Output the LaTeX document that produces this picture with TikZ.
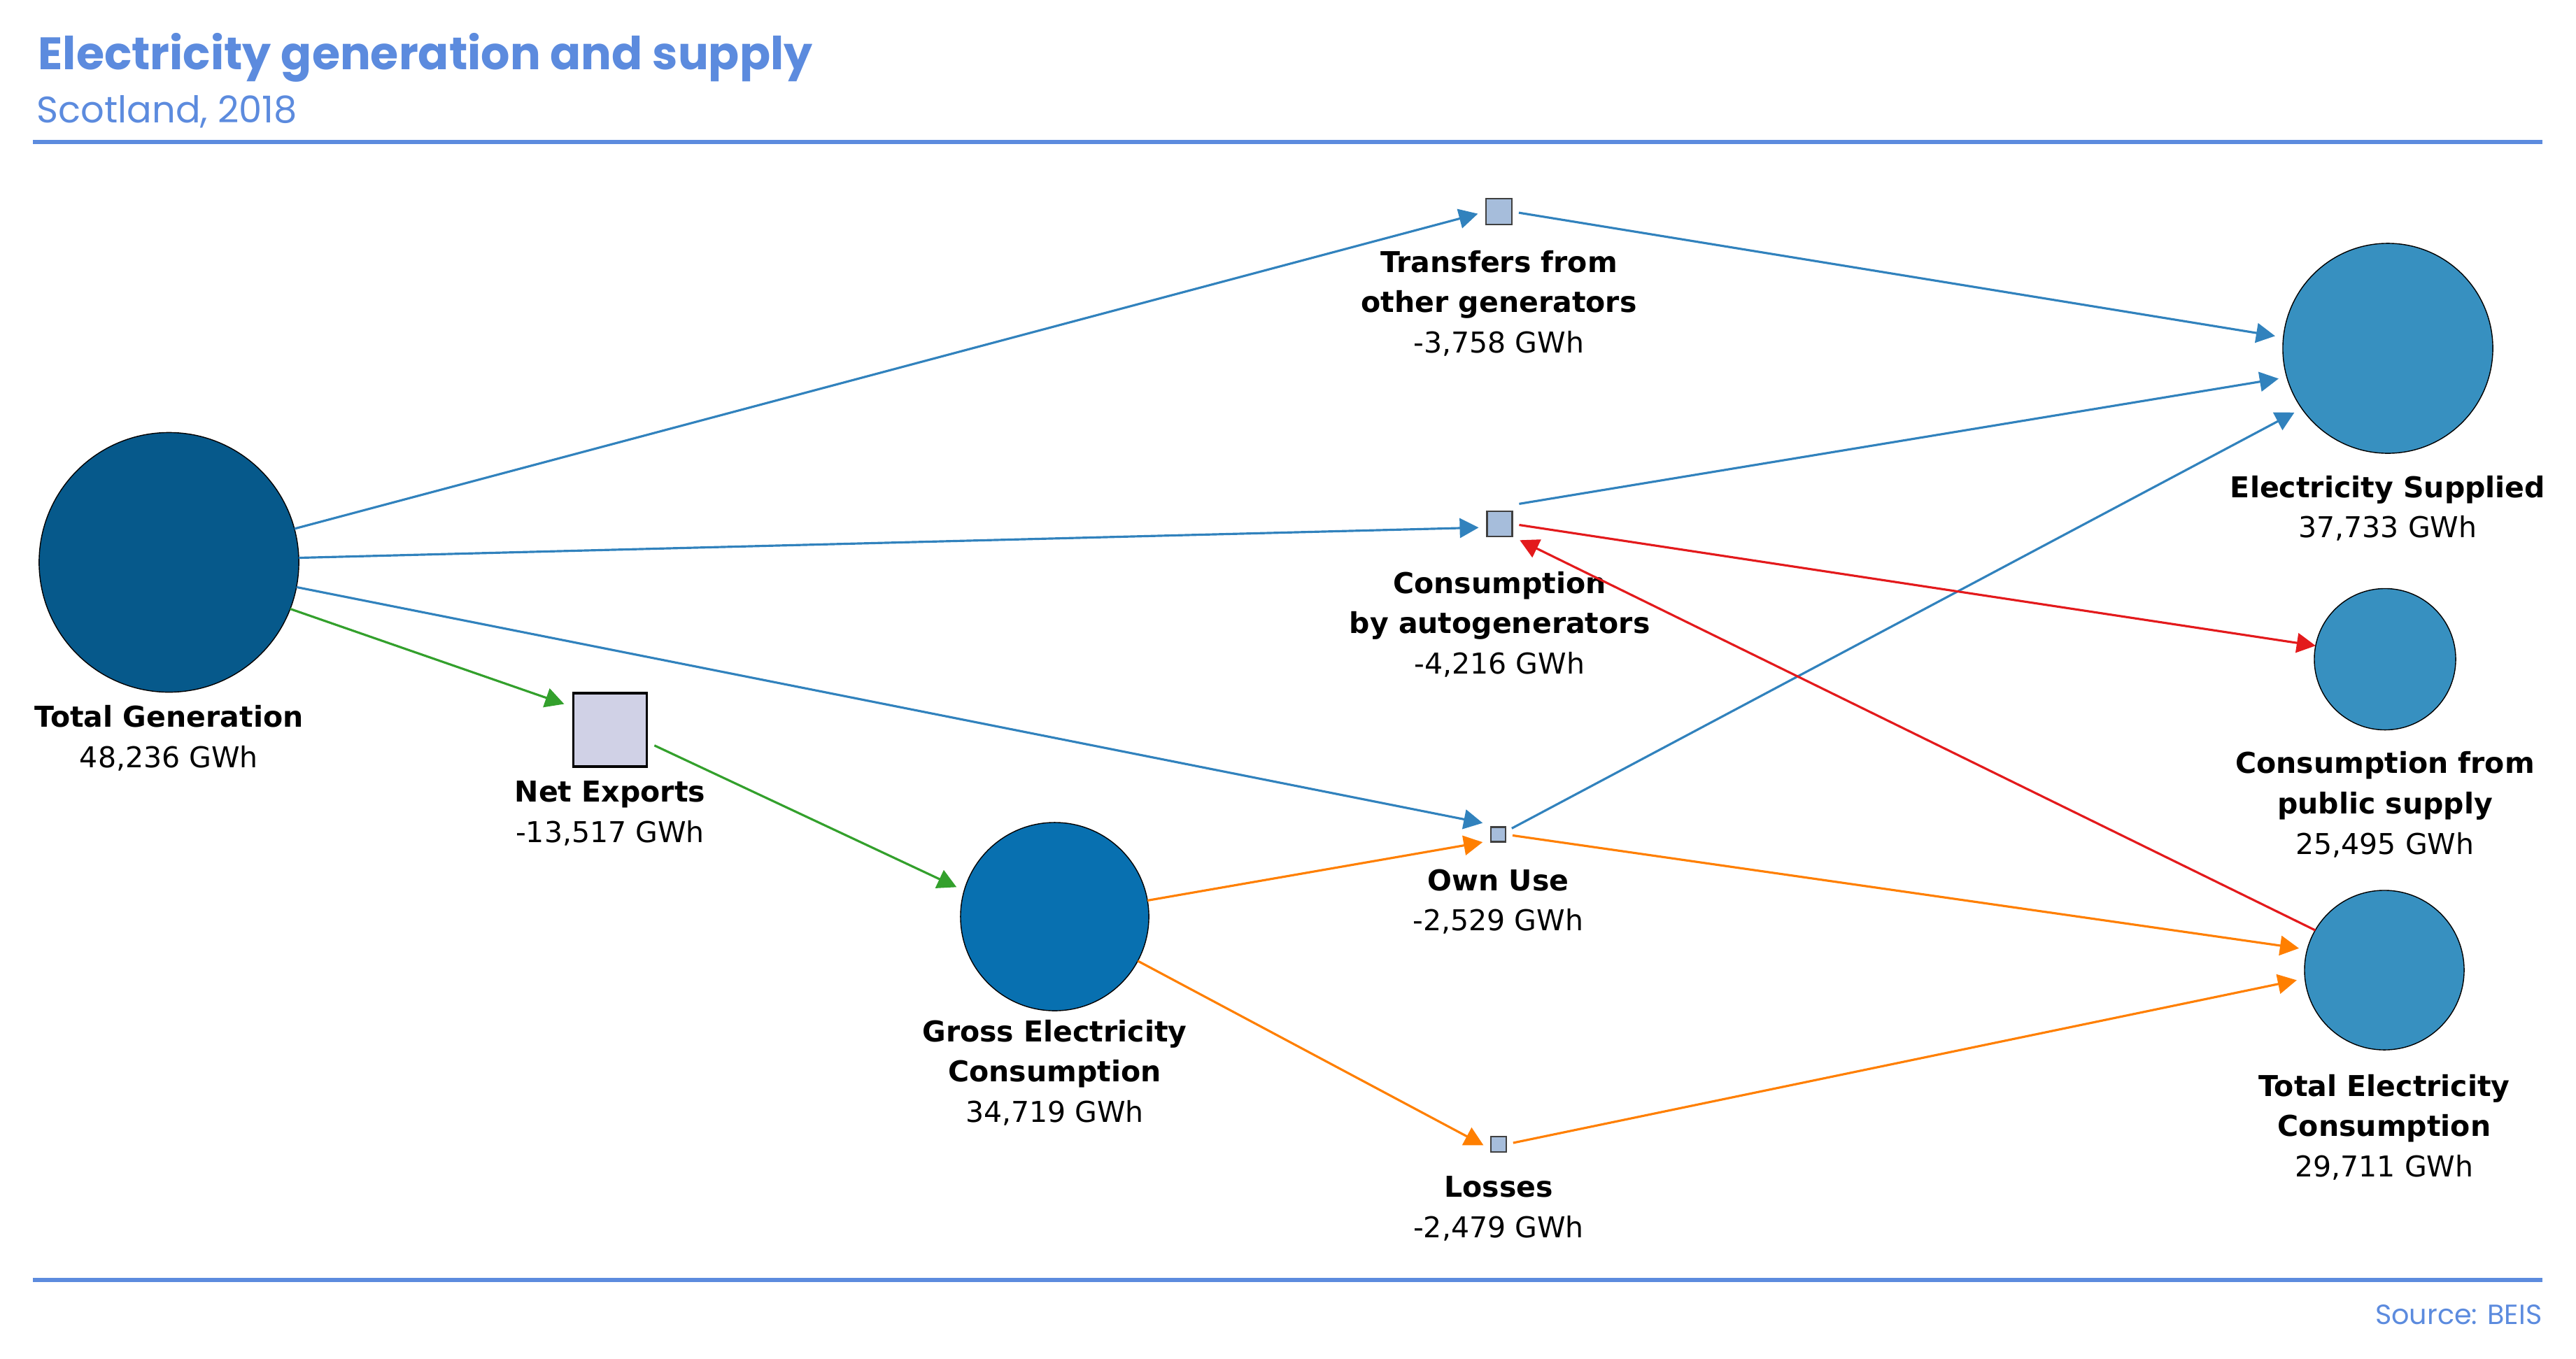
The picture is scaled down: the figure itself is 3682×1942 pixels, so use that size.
\documentclass[tikz,border=0pt]{standalone}
\usepackage{fontspec}
\setmainfont{DejaVu Sans}
\newfontfamily\headfont{Poppins}
\usetikzlibrary{shapes.geometric,arrows.meta,positioning}
\definecolor{headblue}{RGB}{92,139,222}
\definecolor{gencol}{RGB}{6,89,139}
\definecolor{grosscol}{RGB}{8,112,176}
\definecolor{endcol}{RGB}{55,144,192}
\definecolor{stepcol}{RGB}{166,189,219}
\definecolor{exportcol}{RGB}{208,209,230}
\definecolor{flowblue}{RGB}{49,130,189}
\definecolor{flowred}{RGB}{227,26,28}
\definecolor{flowgreen}{RGB}{51,160,44}
\definecolor{floworange}{RGB}{255,127,0}

\begin{document}
\begin{tikzpicture}[
    x=0.01cm, y=-0.01cm,
    bigcircle/.style={circle, draw=black, line width=0.4pt, inner sep=0pt, outer sep=0pt},
    stepbox/.style={rectangle, draw=black!75, fill=stepcol, line width=0.6pt, inner sep=0pt, outer sep=0pt},
    lbl/.style={align=center, inner sep=0pt, outer sep=0pt, font=\fontsize{11.67}{16.4}\selectfont},
    flow/.style={-{Triangle[length=2.7mm,width=2.8mm]}, line width=0.9pt, shorten >=1.2mm},
    fromstep/.style={shorten <=1mm},
    bluearrow/.style={flow, flowblue},
    redarrow/.style={flow, flowred},
    greenarrow/.style={flow, flowgreen},
    orangearrow/.style={flow, floworange},
    rule/.style={headblue, line width=1.45pt}
]
    \useasboundingbox (0,0) rectangle (3682,1942);

    % Heading
    \node[anchor=base west, inner sep=0pt, text=headblue, font=\headfont\bfseries\fontsize{18.5}{22}\selectfont] (title) at (54,99) {Electricity generation and supply};
    \node[anchor=base west, inner sep=0pt, text=headblue, font=\headfont\fontsize{15}{18}\selectfont] (subtitle) at (52,175) {Scotland, 2018};
    \draw[rule] (47,203) -- (3634,203);
    \draw[rule] (47,1830) -- (3634,1830);
    \node[anchor=base east, inner sep=0pt, text=headblue, font=\headfont\fontsize{11.3}{14}\selectfont] (source) at (3634,1893) {Source: BEIS};

    % Main nodes
    \node[bigcircle, fill=gencol, minimum size=3.71cm] (tg) at (241.5,804) {};
    \node[bigcircle, fill=grosscol, minimum size=2.69cm] (gec) at (1507.5,1310.5) {};
    \node[bigcircle, fill=endcol, minimum size=3.00cm] (es) at (3413,498) {};
    \node[bigcircle, fill=endcol, minimum size=2.02cm] (cps) at (3409,942.5) {};
    \node[bigcircle, fill=endcol, minimum size=2.28cm] (tec) at (3408,1387) {};

    % Intermediate steps
    \node[rectangle, draw=black, line width=1pt, fill=exportcol, minimum size=1.05cm, inner sep=0pt] (ne) at (872,1043.5) {};
    \node[stepbox, minimum size=0.37cm] (tr) at (2142.5,302.5) {};
    \node[stepbox, minimum size=0.36cm] (cag) at (2143.5,749) {};
    \node[stepbox, minimum size=0.21cm] (ou) at (2141.5,1193) {};
    \node[stepbox, minimum size=0.22cm] (ls) at (2142,1636) {};

    % Labels
    \node[lbl, below=0.19cm of tg] (tglbl) {\textbf{Total Generation}\\48,236 GWh};
    \node[lbl, below=0.19cm of ne] (nelbl) {\textbf{Net Exports}\\-13,517 GWh};
    \node[lbl, below=0.13cm of gec] (geclbl) {\textbf{Gross Electricity}\\\textbf{Consumption}\\34,719 GWh};
    \node[lbl, below=0.37cm of tr] (trlbl) {\textbf{Transfers from}\\\textbf{other generators}\\-3,758 GWh};
    \node[lbl, below=0.50cm of cag] (caglbl) {\textbf{Consumption}\\\textbf{by autogenerators}\\-4,216 GWh};
    \node[lbl, below=0.39cm of ou] (oulbl) {\textbf{Own Use}\\-2,529 GWh};
    \node[lbl, below=0.35cm of ls] (lslbl) {\textbf{Losses}\\-2,479 GWh};
    \node[lbl, below=0.32cm of es] (eslbl) {\textbf{Electricity Supplied}\\37,733 GWh};
    \node[lbl, below=0.31cm of cps] (cpslbl) {\textbf{Consumption from}\\\textbf{public supply}\\25,495 GWh};
    \node[lbl, below=0.35cm of tec] (teclbl) {\textbf{Total Electricity}\\\textbf{Consumption}\\29,711 GWh};

    % Flows out of total generation
    \draw[bluearrow] (tg.15) -- (tr.west);
    \draw[bluearrow] (tg.2) -- ([yshift=-0.05cm]cag.west);
    \draw[bluearrow] (tg.-11) -- ([yshift=0.14cm]ou.west);
    \draw[greenarrow] (tg.-21) -- ([yshift=0.33cm]ne.west);
    \draw[greenarrow, fromstep] ([yshift=-0.18cm]ne.east) -- (gec.164);

    % Flows out of gross consumption
    \draw[orangearrow] (gec) -- ([yshift=-0.09cm]ou.west);
    \draw[orangearrow] (gec) -- ([yshift=-0.07cm]ls.west);

    % Flows to the right
    \draw[bluearrow, fromstep] (tr.east) -- (es.174);
    \draw[bluearrow, fromstep] ([yshift=0.27cm]cag.east) -- (es.196);
    \draw[bluearrow, fromstep] ([yshift=0.04cm]ou.east) -- (es.215);
    \draw[redarrow, fromstep, shorten >=0pt] (cag.east) -- (cps.169);
    \draw[redarrow] (tec.150) -- (cag.south east);
    \draw[orangearrow, fromstep] (ou.east) -- (tec.165);
    \draw[orangearrow, fromstep] (ls.east) -- (tec.186);

\end{tikzpicture}
\end{document}
